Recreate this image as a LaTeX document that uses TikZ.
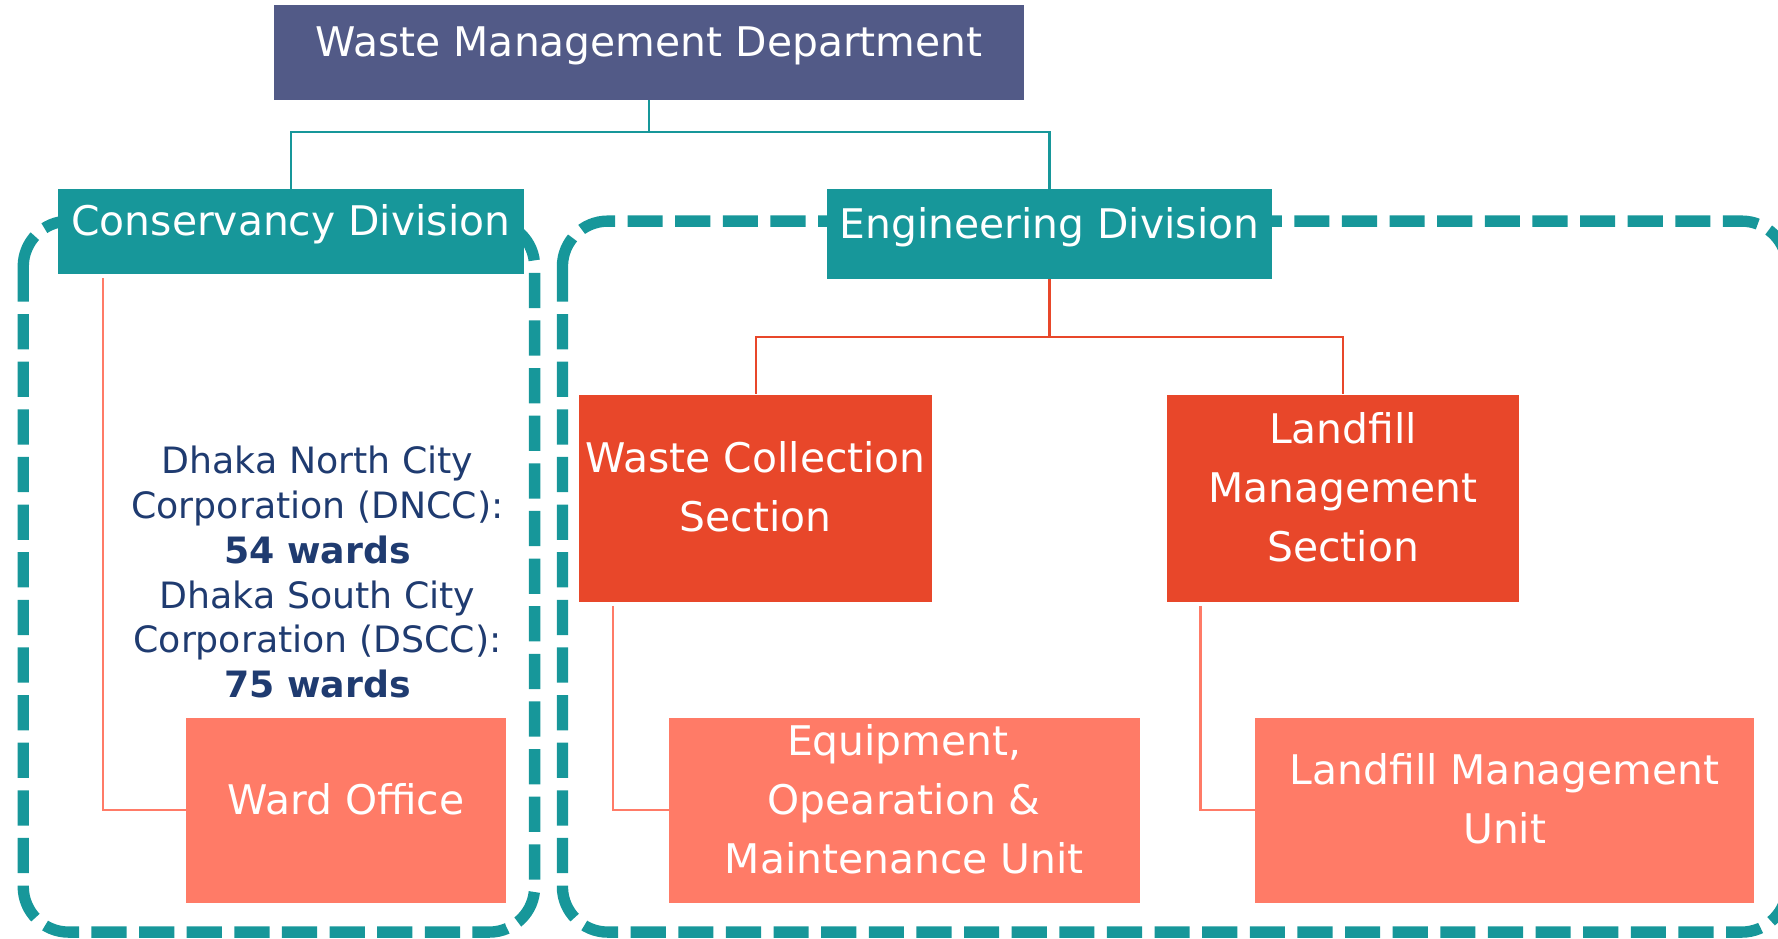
\documentclass[tikz,border=0pt]{standalone}
\usepackage{fontspec}
\setmainfont{DejaVu Sans}
\usepackage{xcolor}
\usepackage{tikz}
\definecolor{slate}{HTML}{525A87}
\definecolor{tealdiv}{HTML}{17979A}
\definecolor{redsec}{HTML}{E8472A}
\definecolor{salmon}{HTML}{FF7B67}
\definecolor{navy}{HTML}{1F3B70}
\newcommand{\lift}[1]{\raisebox{7pt}[\height][\depth]{\begin{tabular}{@{}c@{}}#1\end{tabular}}}
\tikzset{
  orgbox/.style={rectangle, text=white, inner sep=0pt, font=\fontsize{36}{52}\selectfont},
  headbox/.style={orgbox, fill=slate},
  divbox/.style={orgbox, fill=tealdiv},
  secbox/.style={orgbox, fill=redsec},
  unitbox/.style={orgbox, fill=salmon},
  tealline/.style={draw=tealdiv, line width=2pt},
  redline/.style={draw=redsec, line width=2pt},
  salmonline/.style={draw=salmon, line width=2pt},
  groupline/.style={draw=tealdiv, line width=10pt, dash pattern=on 31pt off 11pt, rounded corners=40pt},
  wardtext/.style={text=navy, align=center, font=\fontsize{32}{39.5}\selectfont},
}

\begin{document}
\begin{tikzpicture}[x=1pt,y=-1pt]
  \useasboundingbox (0,0) rectangle (1568,828);
  % dashed groups behind the boxes
  \draw[groupline] (20.5,195) rectangle (471.5,822);
  \draw[groupline] (496,195) rectangle (1576,822);

  \node[headbox, minimum width=661pt, minimum height=84pt] (wmd) at (572.5,46) {\lift{Waste Management Department}};
  \node[divbox, minimum width=411pt, minimum height=75pt] (cons) at (256.5,204.5) {\lift{Conservancy Division}};
  \node[divbox, minimum width=393pt, minimum height=79pt] (eng) at (925.5,206.5) {\lift{Engineering Division}};
  \node[secbox, minimum width=311pt, minimum height=183pt] (wcs) at (666.5,439.5) {\lift{Waste Collection\\Section}};
  \node[secbox, minimum width=311pt, minimum height=183pt] (lms) at (1184.5,439.5) {\lift{Landfill\\Management\\Section}};
  \node[unitbox, minimum width=282pt, minimum height=163pt] (ward) at (305,714.5) {\lift{Ward Office}};
  \node[unitbox, minimum width=415pt, minimum height=163pt] (eomu) at (797.5,714.5) {\lift{Equipment,\\Opearation \&\\Maintenance Unit}};
  \node[unitbox, minimum width=440pt, minimum height=163pt] (lmu) at (1327,714.5) {\lift{Landfill Management\\Unit}};
  \node[wardtext] (dhaka) at (280,504.5) {Dhaka North City\\Corporation (DNCC):\\\textbf{54 wards}\\Dhaka South City\\Corporation (DSCC):\\\textbf{75 wards}};

  % connectors
  \draw[tealline] (wmd.south) -- ++(0,28) -| (cons.north);
  \draw[tealline] (wmd.south) -- ++(0,28) -| (eng.north);
  \draw[redline] (eng.south) -- ++(0,51) -| (wcs.north);
  \draw[redline] (eng.south) -- ++(0,51) -| (lms.north);
  \draw[salmonline] ([xshift=40pt,yshift=-3pt]cons.south west) |- (ward.west);
  \draw[salmonline] ([xshift=30pt,yshift=-3pt]wcs.south west) |- (eomu.west);
  \draw[salmonline] ([xshift=30pt,yshift=-3pt]lms.south west) |- (lmu.west);
\end{tikzpicture}
\end{document}
